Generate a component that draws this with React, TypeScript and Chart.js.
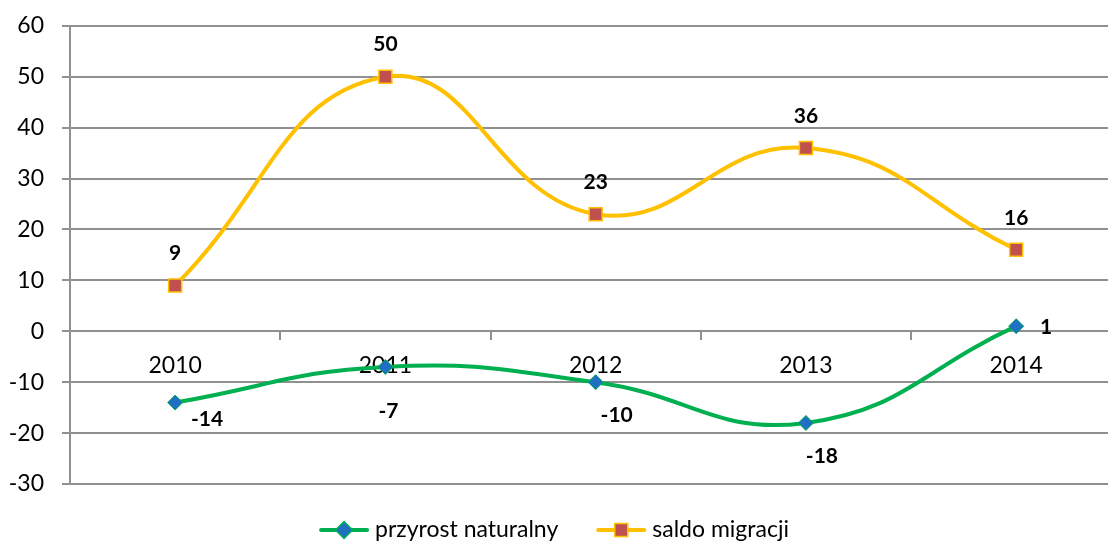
import React, { useEffect, useRef } from 'react';
import { Chart, registerables } from 'chart.js';

Chart.register(...registerables);

// ---- data ----
const years: string[] = ['2010', '2011', '2012', '2013', '2014'];
const przyrostNaturalny: number[] = [-14, -7, -10, -18, 1];
const saldoMigracji: number[] = [9, 50, 23, 36, 16];
const seriesNames: string[] = ['przyrost naturalny', 'saldo migracji'];
const yMin = -30;
const yMax = 60;
const yStep = 10;

// ---- style ----
const FONT = 'Lato, "Open Sans", sans-serif';
const GRID = '#909090';
const VISIBLE_W = 1108;
const VISIBLE_H = 542;
const CANVAS_W = 1132;
const CANVAS_H = 548;
const SHIFT_Y = -6;

const GREEN = '#00B050';
const YELLOW = '#FFC000';
const BLUE = '#1F6FC3';
const RED = '#C0504D';

const dataLabelPlugin = {
  id: 'dataLabels',
  afterDatasetsDraw(chart: any, _args: any, opts: any) {
    const ctx = chart.ctx;
    ctx.save();
    ctx.font = `bold 21px ${FONT}`;
    ctx.fillStyle = '#000';
    ctx.textAlign = 'center';
    ctx.textBaseline = 'middle';
    chart.data.datasets.forEach((ds: any, di: number) => {
      const meta = chart.getDatasetMeta(di);
      const offs = opts.offsets[di];
      meta.data.forEach((pt: any, i: number) => {
        const o = offs[i];
        ctx.fillText(String(ds.data[i]), pt.x + o[0], pt.y + o[1]);
      });
    });
    ctx.restore();
  },
};

const legendPlugin = {
  id: 'excelLegend',
  afterDraw(chart: any) {
    const ctx = chart.ctx;
    ctx.save();
    ctx.font = `23px ${FONT}`;
    const lineW = 50;
    const gapText = 6;
    const gapItem = 38;
    const items = chart.data.datasets.map((ds: any) => ({
      ds,
      w: lineW + gapText + ctx.measureText(ds.label).width,
    }));
    const total = items.reduce((a: number, b: any) => a + b.w, 0) + gapItem * (items.length - 1);
    let x = VISIBLE_W / 2 - total / 2;
    const y = chart.chartArea.bottom + 46;
    items.forEach((it: any, idx: number) => {
      const ds = it.ds;
      ctx.strokeStyle = ds.borderColor;
      ctx.lineWidth = 4;
      ctx.lineCap = 'round';
      ctx.beginPath();
      ctx.moveTo(x + 2, y);
      ctx.lineTo(x + lineW - 2, y);
      ctx.stroke();
      const cx = x + lineW / 2;
      ctx.fillStyle = ds.pointBackgroundColor;
      ctx.strokeStyle = ds.pointBorderColor;
      ctx.lineWidth = 1.5;
      ctx.beginPath();
      if (idx === 0) {
        const r = 8.5;
        ctx.moveTo(cx, y - r);
        ctx.lineTo(cx + r, y);
        ctx.lineTo(cx, y + r);
        ctx.lineTo(cx - r, y);
        ctx.closePath();
      } else {
        const s = 6.5;
        ctx.rect(cx - s, y - s, 2 * s, 2 * s);
      }
      ctx.fill();
      ctx.stroke();
      ctx.fillStyle = '#000';
      ctx.textAlign = 'left';
      ctx.textBaseline = 'middle';
      ctx.fillText(ds.label, x + lineW + gapText, y);
      x += it.w + gapItem;
    });
    ctx.restore();
  },
};

export default function App() {
  const ref = useRef<HTMLCanvasElement | null>(null);

  useEffect(() => {
    if (!ref.current) return;
    const chart = new Chart(ref.current, {
      type: 'line',
      data: {
        labels: years,
        datasets: [
          {
            label: seriesNames[0],
            data: przyrostNaturalny,
            borderColor: GREEN,
            borderWidth: 4,
            pointStyle: 'rectRot',
            pointRadius: 7.5,
            pointBackgroundColor: BLUE,
            pointBorderColor: GREEN,
            pointBorderWidth: 1,
            tension: 0.45,
            fill: false,
          },
          {
            label: seriesNames[1],
            data: saldoMigracji,
            borderColor: YELLOW,
            borderWidth: 4,
            pointStyle: 'rect',
            pointRadius: 9.2,
            pointBackgroundColor: RED,
            pointBorderColor: YELLOW,
            pointBorderWidth: 1.5,
            tension: 0.45,
            fill: false,
          },
        ],
      },
      options: {
        responsive: false,
        animation: false,
        events: [],
        layout: { padding: { left: 0, right: 4, top: 19, bottom: 58 } },
        plugins: {
          legend: { display: false },
          tooltip: { enabled: false },
          dataLabels: {
            offsets: [
              [[32, 17], [3, 44], [21, 33], [16, 33], [30, 1]],
              [[0, -32], [0, -32], [0, -32], [0, -32], [0, -32]],
            ],
          },
        } as any,
        scales: {
          x: {
            type: 'category',
            position: { y: 0 } as any,
            offset: true,
            grid: {
              display: true,
              drawOnChartArea: false,
              drawTicks: true,
              tickLength: 8,
              color: GRID,
              lineWidth: 2,
              offset: true,
            },
            border: { display: true, color: GRID, width: 2 },
            ticks: {
              font: { family: FONT, size: 23 },
              color: '#000',
              padding: 13,
              maxRotation: 0,
            },
          },
          y: {
            min: yMin,
            max: yMax,
            ticks: {
              stepSize: yStep,
              font: { family: FONT, size: 23 },
              color: '#000',
              padding: 18,
            },
            grid: { color: GRID, lineWidth: 2, tickLength: 8, drawTicks: true },
            border: { display: true, color: GRID, width: 2 },
            afterFit: (s: any) => {
              s.width = 70;
            },
          },
        },
      },
      plugins: [dataLabelPlugin, legendPlugin],
    } as any);
    return () => chart.destroy();
  }, []);

  return (
    <div
      style={{
        position: 'fixed',
        left: 0,
        top: 0,
        width: VISIBLE_W,
        height: VISIBLE_H,
        overflow: 'hidden',
        background: '#fff',
      }}
    >
      <canvas
        ref={ref}
        width={CANVAS_W}
        height={CANVAS_H}
        style={{ display: 'block', marginTop: SHIFT_Y }}
      />
    </div>
  );
}
